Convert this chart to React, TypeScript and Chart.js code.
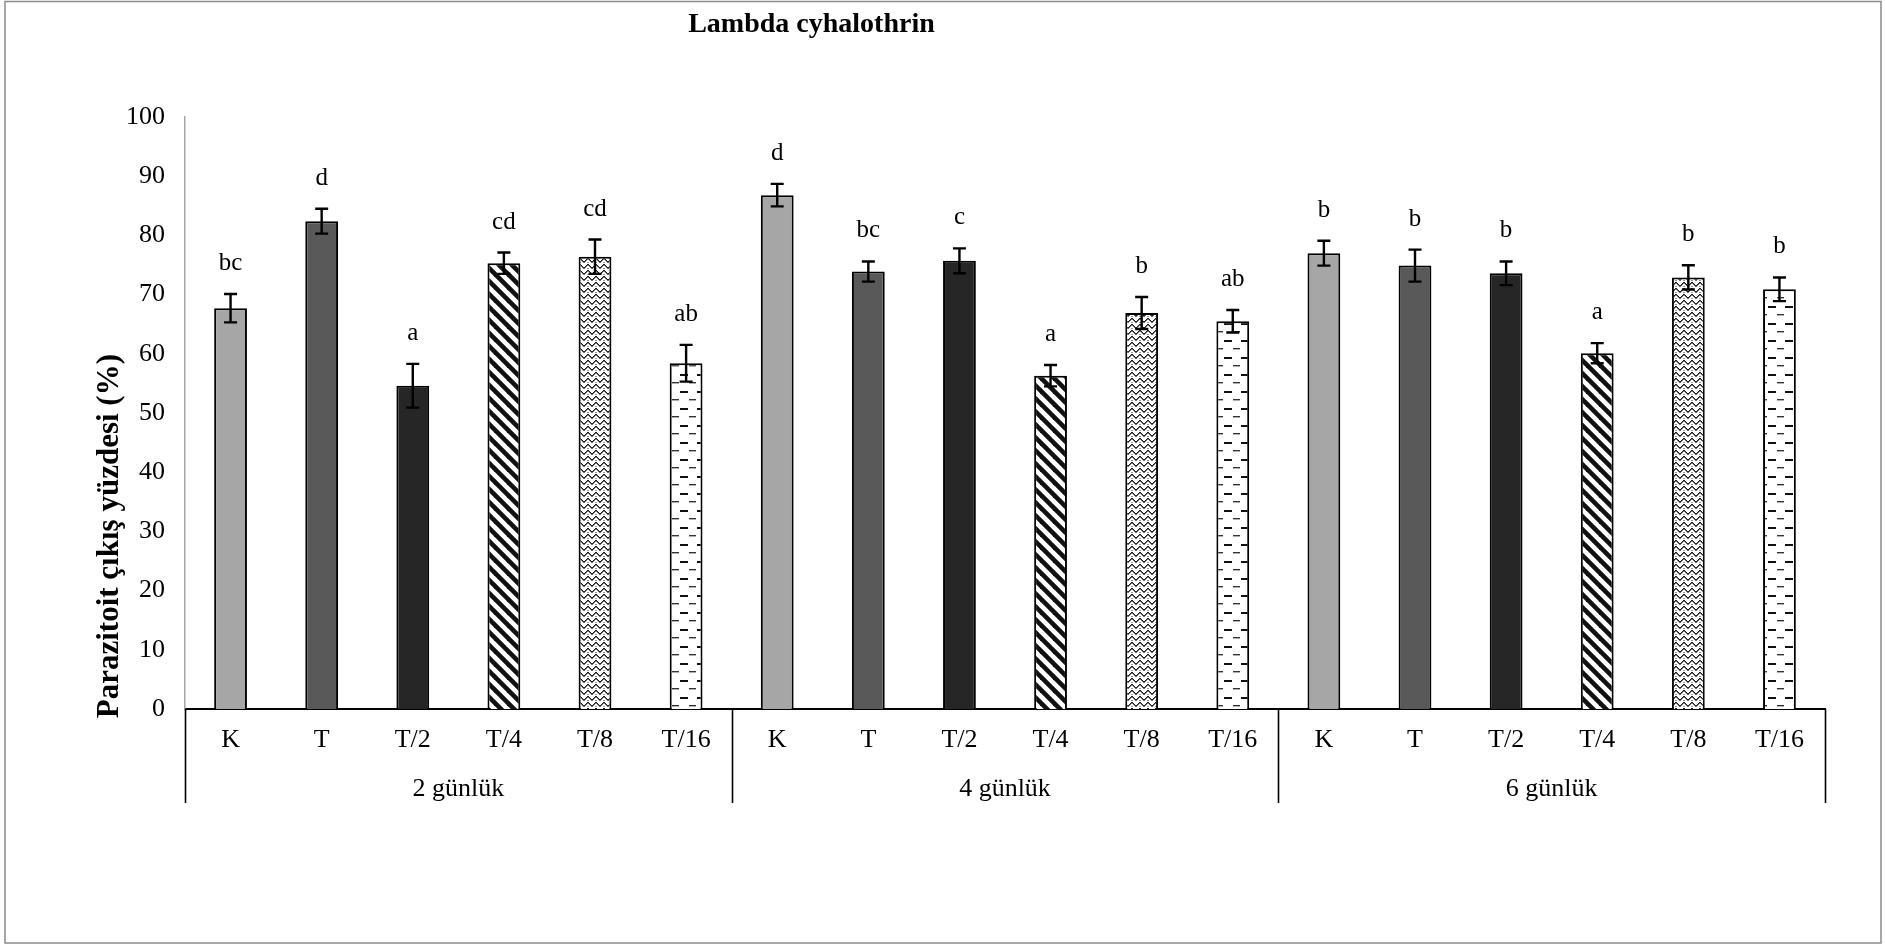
import React, { useEffect, useRef } from "react";
import { Chart, registerables } from "chart.js";

Chart.register(...registerables);

const chartTitle = "Lambda cyhalothrin";
const yAxisTitle = "Parazitoit çıkış yüzdesi (%)";
const groups = ["2 günlük", "4 günlük", "6 günlük"];
const treatments = ["K", "T", "T/2", "T/4", "T/8", "T/16"];

const mean2 = [67.7, 82.4, 54.6, 75.3, 76.4, 58.4];
const mean4 = [86.8, 73.9, 75.7, 56.3, 66.9, 65.5];
const mean6 = [77.0, 74.9, 73.6, 60.1, 72.9, 70.9];
const err2 = [2.4, 2.1, 3.7, 1.8, 2.9, 3.1];
const err4 = [1.9, 1.7, 2.1, 1.8, 2.7, 1.9];
const err6 = [2.1, 2.7, 2.0, 1.7, 2.05, 2.0];
const letters2 = ["bc", "d", "a", "cd", "cd", "ab"];
const letters4 = ["d", "bc", "c", "a", "b", "ab"];
const letters6 = ["b", "b", "b", "a", "b", "b"];
const yMin = 0;
const yMax = 100;
const yStep = 10;

const SERIF = '"Liberation Serif", "Times New Roman", serif';

function makeTile(w: number, h: number, draw: (g: CanvasRenderingContext2D) => void) {
  const c = document.createElement("canvas");
  c.width = w;
  c.height = h;
  const g = c.getContext("2d")!;
  g.fillStyle = "#ffffff";
  g.fillRect(0, 0, w, h);
  draw(g);
  return c;
}

function buildFills(ctx: CanvasRenderingContext2D): (string | CanvasPattern)[] {
  const diag = makeTile(13, 13, (g) => {
    g.strokeStyle = "#111111";
    g.lineWidth = 4.6;
    for (const k of [-13, 0, 13]) {
      g.beginPath();
      g.moveTo(-2, k - 2);
      g.lineTo(15, 15 + k);
      g.stroke();
    }
  });
  const weave = makeTile(8, 6, (g) => {
    const dark = [
      [3, 0], [4, 0], [2, 1], [5, 1], [1, 2], [6, 2], [0, 3], [7, 3],
    ];
    const light = [
      [3, 1], [4, 1], [2, 2], [5, 2], [1, 3], [6, 3], [0, 4], [7, 4],
    ];
    g.fillStyle = "#1e1e1e";
    dark.forEach(([x, y]) => g.fillRect(x, y, 1, 1));
    g.fillStyle = "#707070";
    light.forEach(([x, y]) => g.fillRect(x, y, 1, 1));
    g.fillStyle = "#9a9a9a";
    g.fillRect(3, 4, 1, 1);
    g.fillRect(4, 4, 1, 1);
  });
  const dashes = makeTile(17, 17, (g) => {
    g.fillStyle = "#111111";
    g.fillRect(0, 0, 8, 2);
    g.fillStyle = "#333333";
    g.fillRect(9, 8, 7, 1);
    g.fillStyle = "#b0b0b0";
    g.fillRect(9, 9, 7, 1);
  });
  return [
    "#a6a6a6",
    "#595959",
    "#262626",
    ctx.createPattern(diag, "repeat")!,
    ctx.createPattern(weave, "repeat")!,
    ctx.createPattern(dashes, "repeat")!,
  ];
}

export default function App() {
  const canvasRef = useRef<HTMLCanvasElement | null>(null);

  useEffect(() => {
    const canvas = canvasRef.current;
    if (!canvas) return;
    const ctx0 = canvas.getContext("2d")!;
    const fills = buildFills(ctx0);

    const labels = groups.flatMap(() => treatments);
    const means = [...mean2, ...mean4, ...mean6];
    const errs = [...err2, ...err4, ...err6];
    const letters = [...letters2, ...letters4, ...letters6];
    const bg = labels.map((_, i) => fills[i % treatments.length]);

    const decor = {
      id: "decor",
      beforeDraw(chart: any) {
        const c = chart.ctx;
        c.save();
        c.fillStyle = "#ffffff";
        c.fillRect(0, 0, chart.width, chart.height);
        c.strokeStyle = "#8a8a8a";
        c.lineWidth = 1.5;
        c.strokeRect(5, 1.5, chart.width - 9, chart.height - 2.5);
        c.restore();
      },
      afterDatasetsDraw(chart: any) {
        const c = chart.ctx;
        const meta = chart.getDatasetMeta(0);
        const y = chart.scales.y;
        c.save();
        c.strokeStyle = "#000000";
        c.lineWidth = 2.4;
        c.fillStyle = "#000000";
        c.font = `25px ${SERIF}`;
        c.textAlign = "center";
        c.textBaseline = "alphabetic";
        meta.data.forEach((bar: any, i: number) => {
          const x = bar.x;
          const yt = y.getPixelForValue(means[i] + errs[i]);
          const yb = y.getPixelForValue(means[i] - errs[i]);
          const cap = 6.5;
          c.beginPath();
          c.moveTo(x, yt);
          c.lineTo(x, yb);
          c.moveTo(x - cap, yt);
          c.lineTo(x + cap, yt);
          c.moveTo(x - cap, yb);
          c.lineTo(x + cap, yb);
          c.stroke();
          c.fillText(letters[i], x, yt - 24);
        });
        c.restore();
      },
      afterDraw(chart: any) {
        const c = chart.ctx;
        const area = chart.chartArea;
        const xs = chart.scales.x;
        const meta = chart.getDatasetMeta(0);
        c.save();
        // title
        c.fillStyle = "#000000";
        c.font = `bold 28px ${SERIF}`;
        c.textAlign = "center";
        c.textBaseline = "middle";
        c.fillText(chartTitle, area.left + 0.382 * (area.right - area.left), 25);
        // y axis title
        c.save();
        c.translate(110, area.bottom - 0.292 * (area.bottom - area.top));
        c.rotate(-Math.PI / 2);
        c.font = `bold 31px ${SERIF}`;
        c.fillText(yAxisTitle, 0, 0);
        c.restore();
        // category labels
        c.font = `26px ${SERIF}`;
        meta.data.forEach((bar: any, i: number) => {
          c.fillText(labels[i], bar.x, area.bottom + 31);
        });
        // group labels and separators
        const gw = (xs.right - xs.left) / groups.length;
        groups.forEach((g, k) => {
          c.fillText(g, xs.left + gw * (k + 0.5), area.bottom + 80);
        });
        c.strokeStyle = "#000000";
        c.lineWidth = 1.6;
        for (let k = 0; k <= groups.length; k++) {
          const x = Math.round(xs.left + gw * k) + 0.5;
          c.beginPath();
          c.moveTo(x, area.bottom);
          c.lineTo(x, area.bottom + 94);
          c.stroke();
        }
        c.restore();
      },
    };

    const chart = new Chart(canvas, {
      type: "bar",
      data: {
        labels,
        datasets: [
          {
            data: means,
            backgroundColor: bg as any,
            borderColor: "#000000",
            borderWidth: 2,
            borderSkipped: "bottom",
            categoryPercentage: 1,
            barPercentage: 0.36,
          },
        ],
      },
      options: {
        animation: false,
        responsive: true,
        maintainAspectRatio: false,
        devicePixelRatio: 1,
        layout: { padding: { left: 0, right: 60, top: 117, bottom: 0 } },
        plugins: {
          legend: { display: false },
          title: { display: false },
          tooltip: { enabled: false },
        },
        scales: {
          x: {
            type: "category",
            grid: { display: false },
            ticks: { display: false },
            border: { display: true, color: "#000000", width: 2 },
            afterFit(scale: any) {
              scale.height = 235;
            },
          },
          y: {
            min: yMin,
            max: yMax,
            grid: { display: false, drawTicks: false },
            border: { display: true, color: "#a6a6a6", width: 1.5 },
            ticks: {
              stepSize: yStep,
              padding: 20,
              color: "#000000",
              font: { family: SERIF, size: 26 },
            },
            afterFit(scale: any) {
              scale.width = 185;
            },
          },
        },
      },
      plugins: [decor],
    });

    return () => {
      chart.destroy();
    };
  }, []);

  return (
    <div style={{ position: "fixed", left: 0, top: 0, width: "1885px", height: "944px", background: "#fff" }}>
      <canvas ref={canvasRef} />
    </div>
  );
}
